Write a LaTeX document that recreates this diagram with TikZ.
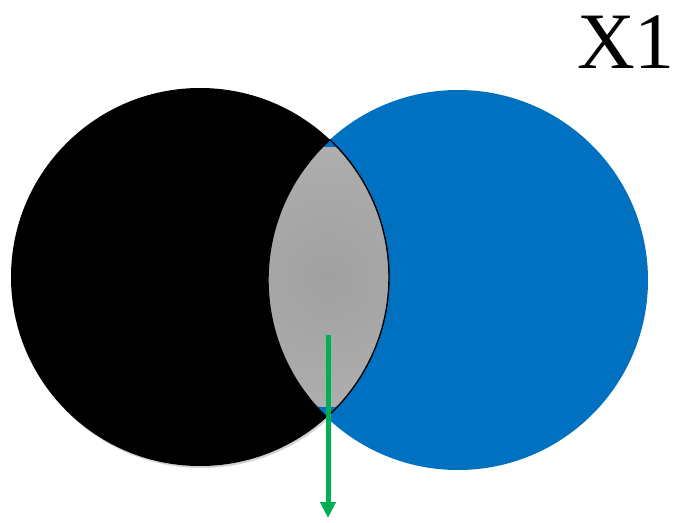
\documentclass[tikz,border=0pt]{standalone}
\usepackage{fontspec}
\setmainfont{Liberation Serif}
\usepackage{tikz}
\usetikzlibrary{positioning, arrows.meta, shadows}
\definecolor{setBlue}{HTML}{0070C0}
\definecolor{arrowGreen}{HTML}{00B050}
\definecolor{lensInner}{HTML}{A0A0A0}
\definecolor{lensOuter}{HTML}{AEAEAE}

\begin{document}
\begin{tikzpicture}[x=1pt, y=-1pt]
\useasboundingbox (0,0) rectangle (679,522);

\coordinate (blackc) at (200,277);
\coordinate (bluec) at (458,280);
\coordinate (lensc) at (329,277);

% the two sets
\fill[
  black,
  drop shadow={shadow xshift=1.5pt, shadow yshift=-2pt, opacity=0.35}
] (blackc) circle (189pt);

\fill[setBlue] (bluec) circle (190pt);

% intersection
\begin{scope}
  \clip (blackc) circle (189pt);
  \clip (bluec) circle (190pt);
  \shade[inner color=lensInner, outer color=lensOuter] (lensc) circle (130pt);
\end{scope}

\begin{scope}
  \clip (blackc) circle (189pt);
  \draw[line width=1.4pt] (bluec) circle (190pt);
\end{scope}

\begin{scope}
  \clip (bluec) circle (190pt);
  \draw[line width=1.4pt] (blackc) circle (189pt);
\end{scope}

% arrow
\coordinate (arrowtop) at (328,335);
\coordinate (arrowtip) at (328,518);

\draw[
  arrowGreen,
  line width=5pt,
  -{Triangle[length=16pt, width=15pt]}
] (arrowtop) -- (arrowtip);

\node[
  font=\fontsize{80}{90}\selectfont,
  anchor=base east,
  inner sep=0pt
] (setlabel) at (675,68) {X1};

\end{tikzpicture}
\end{document}
